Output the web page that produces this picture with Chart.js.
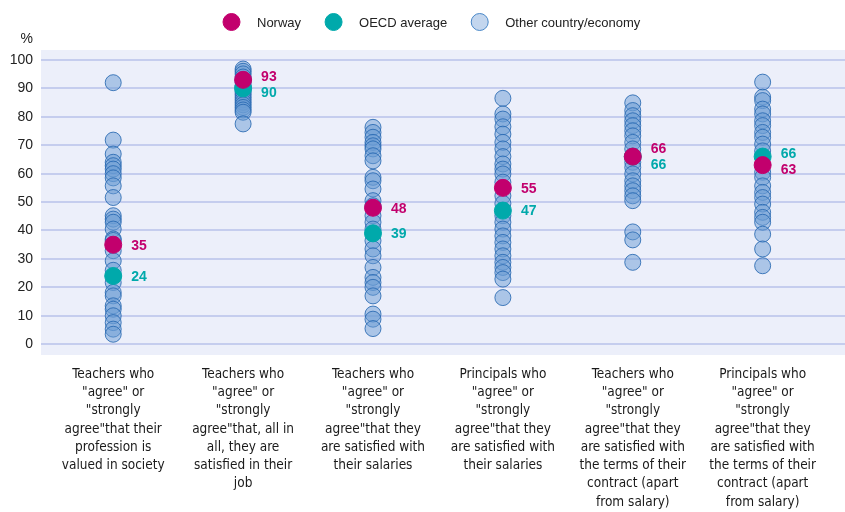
<!DOCTYPE html>
<html>
<head>
<meta charset="utf-8">
<script src="https://cdn.jsdelivr.net/npm/chart.js@4"></script>
<style>
    body { margin: 0; background: #ffffff; }
    #wrap { width: 845px; height: 512px; }
</style>
</head>
<body>
<div id="wrap"><canvas id="satisfactionChart" width="845" height="512"></canvas></div>
<script>
// Category labels (one array of lines per category)
const categories = [
    ['Teachers who', '"agree" or', '"strongly', 'agree"that their', 'profession is', 'valued in society'],
    ['Teachers who', '"agree" or', '"strongly', 'agree"that, all in', 'all, they are', 'satisfied in their', 'job'],
    ['Teachers who', '"agree" or', '"strongly', 'agree"that they', 'are satisfied with', 'their salaries'],
    ['Principals who', '"agree" or', '"strongly', 'agree"that they', 'are satisfied with', 'their salaries'],
    ['Teachers who', '"agree" or', '"strongly', 'agree"that they', 'are satisfied with', 'the terms of their', 'contract (apart', 'from salary)'],
    ['Principals who', '"agree" or', '"strongly', 'agree"that they', 'are satisfied with', 'the terms of their', 'contract (apart', 'from salary)']
];

const norway = [35, 93, 48, 55, 66, 63];
const oecdAverage = [24, 90, 39, 47, 66, 66];

// Other countries/economies, one list per category
const otherCol1 = [92, 71.8, 66.9, 64, 62.8, 61.6, 60, 58.5, 55.7, 51.6, 45.2, 44, 42.9, 40.5, 37, 36.5, 32.9, 29.3, 26, 21.7, 18.2, 17, 13.5, 12.3, 10, 7.6, 5.3, 3.5];
const otherCol2 = [96.8, 96, 95.1, 94, 93, 92.1, 91, 90.5, 89.5, 88.6, 87.8, 86.9, 86, 85.1, 84.2, 83.3, 82.4, 81.6, 77.5];
const otherCol3 = [76.3, 74.5, 72.8, 71, 69.8, 68.7, 66.3, 64.5, 58.7, 57.5, 54.6, 50.5, 48.7, 45.2, 42.9, 40.5, 36.4, 33.5, 31.1, 27, 23.5, 21.7, 20, 17, 10.6, 8.8, 5.5];
const otherCol4 = [86.5, 81, 79.2, 76.5, 73.9, 71, 68.7, 66, 63.4, 61.6, 59.9, 57, 52.2, 49.5, 45.2, 42.9, 40.5, 38.1, 35.8, 33.5, 31.1, 28.8, 27, 25.2, 22.9, 16.4];
const otherCol5 = [84.9, 82.2, 80.4, 78.6, 76.9, 75.1, 73.3, 71, 68.7, 64, 62.2, 59.9, 57.5, 55.7, 54, 52.2, 50.5, 39.5, 36.7, 28.8];
const otherCol6 = [92.2, 86.9, 85.7, 82.7, 81, 78.6, 76.9, 74.5, 72.8, 70.4, 68, 60.5, 58.7, 55.7, 53.4, 51.6, 49.3, 46.4, 44.6, 42.9, 38.7, 33.5, 27.6];

const yTicks = [0, 10, 20, 30, 40, 50, 60, 70, 80, 90, 100];

const otherColumns = [otherCol1, otherCol2, otherCol3, otherCol4, otherCol5, otherCol6];

const NORWAY_COLOR = '#c2006d';
const OECD_COLOR = '#00a9ab';
const OTHER_FILL = 'rgba(105, 155, 212, 0.5)';
const OTHER_BORDER = 'rgba(40, 105, 178, 0.85)';

const otherPoints = [];
otherColumns.forEach((col, i) => {
    col.forEach(v => otherPoints.push({ x: i, y: v }));
});

// plot background
const plotBackground = {
    id: 'plotBackground',
    beforeDraw(chart) {
        const { ctx, chartArea } = chart;
        ctx.save();
        ctx.fillStyle = '#eceffa';
        ctx.fillRect(chartArea.left, chartArea.top, chartArea.right - chartArea.left, chartArea.bottom - chartArea.top);
        ctx.restore();
    }
};

// legend, "%" unit and value labels
const extras = {
    id: 'extras',
    afterDatasetsDraw(chart) {
        const { ctx, chartArea, scales } = chart;
        ctx.save();

        // unit
        ctx.font = '14px "Liberation Sans", Arial, sans-serif';
        ctx.fillStyle = '#222';
        ctx.textAlign = 'right';
        ctx.textBaseline = 'middle';
        ctx.fillText('%', chartArea.left - 8, chartArea.top - 11);

        // legend
        const items = [
            { text: 'Norway', fill: NORWAY_COLOR, border: NORWAY_COLOR },
            { text: 'OECD average', fill: OECD_COLOR, border: OECD_COLOR },
            { text: 'Other country/economy', fill: '#c3d6ee', border: '#4a88c8' }
        ];
        ctx.font = '13px "Liberation Sans", Arial, sans-serif';
        ctx.textAlign = 'left';
        let x = 223;
        const ly = 22;
        items.forEach(item => {
            ctx.beginPath();
            ctx.arc(x + 8.5, ly, 8.5, 0, Math.PI * 2);
            ctx.fillStyle = item.fill;
            ctx.fill();
            ctx.lineWidth = 1;
            ctx.strokeStyle = item.border;
            ctx.stroke();
            ctx.fillStyle = '#222';
            ctx.fillText(item.text, x + 34, ly + 1);
            x += 34 + ctx.measureText(item.text).width + 24;
        });

        // value labels
        ctx.font = 'bold 14px "Liberation Sans", Arial, sans-serif';
        const minGap = 16;
        norway.forEach((nv, i) => {
            const px = scales.x.getPixelForValue(i) + 18;
            let ny = scales.y.getPixelForValue(nv);
            let oy = scales.y.getPixelForValue(oecdAverage[i]);
            if (Math.abs(ny - oy) < minGap) {
                const mid = (ny + oy) / 2;
                if (nv >= oecdAverage[i]) {
                    ny = mid - minGap / 2;
                    oy = mid + minGap / 2;
                } else {
                    ny = mid + minGap / 2;
                    oy = mid - minGap / 2;
                }
            }
            ctx.fillStyle = NORWAY_COLOR;
            ctx.fillText(String(nv), px, ny + 1);
            ctx.fillStyle = OECD_COLOR;
            ctx.fillText(String(oecdAverage[i]), px, oy + 1);
        });
        ctx.restore();
    }
};

const ctx = document.getElementById('satisfactionChart').getContext('2d');

new Chart(ctx, {
    type: 'scatter',
    data: {
        datasets: [
            {
                label: 'Norway',
                data: norway.map((v, i) => ({ x: i, y: v })),
                backgroundColor: NORWAY_COLOR,
                borderColor: NORWAY_COLOR,
                borderWidth: 1,
                pointRadius: 8.5
            },
            {
                label: 'OECD average',
                data: oecdAverage.map((v, i) => ({ x: i, y: v })),
                backgroundColor: OECD_COLOR,
                borderColor: OECD_COLOR,
                borderWidth: 1,
                pointRadius: 8.5
            },
            {
                label: 'Other country/economy',
                data: otherPoints,
                backgroundColor: OTHER_FILL,
                borderColor: OTHER_BORDER,
                borderWidth: 1,
                pointRadius: 8
            }
        ]
    },
    options: {
        responsive: false,
        animation: false,
        layout: {
            autoPadding: false,
            padding: { top: 50, left: 0, right: 0, bottom: 0 }
        },
        plugins: {
            legend: { display: false },
            tooltip: { enabled: false }
        },
        scales: {
            x: {
                type: 'linear',
                min: -0.556,
                max: 5.634,
                grid: { display: false, drawTicks: false },
                border: { display: false },
                afterBuildTicks: (axis) => {
                    axis.ticks = categories.map((_, i) => ({ value: i }));
                },
                afterFit: (axis) => {
                    axis.height = 157;
                    axis.paddingLeft = 0;
                    axis.paddingRight = 0;
                },
                ticks: {
                    autoSkip: false,
                    maxRotation: 0,
                    padding: 10,
                    color: '#1a1a1a',
                    font: { family: '"Liberation Sans Narrow", "DejaVu Sans Condensed", sans-serif', size: 13.5, lineHeight: 1.355 },
                    callback: (value) => categories[value]
                }
            },
            y: {
                min: -3.8,
                max: 103.5,
                afterFit: (axis) => { axis.width = 41; },
                afterBuildTicks: (axis) => {
                    axis.ticks = yTicks.map(v => ({ value: v }));
                },
                grid: {
                    color: '#c5cdee',
                    lineWidth: 2,
                    drawTicks: false
                },
                border: { display: false },
                ticks: {
                    padding: 8,
                    color: '#222',
                    font: { family: '"Liberation Sans", Arial, sans-serif', size: 14 }
                }
            }
        }
    },
    plugins: [plotBackground, extras]
});
</script>
</body>
</html>
